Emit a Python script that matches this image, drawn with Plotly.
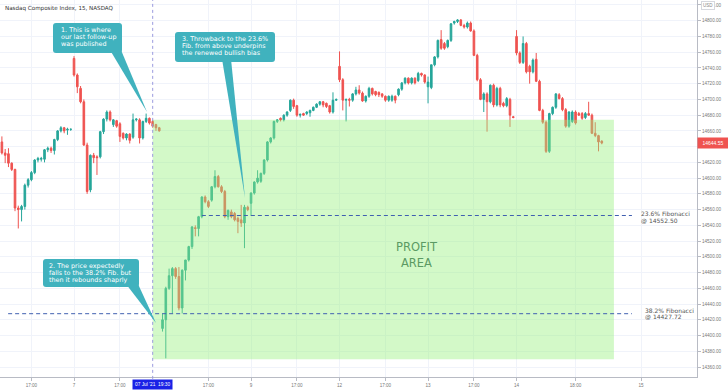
import plotly.graph_objects as go

# ---------------- data ----------------
BARS_PER_SESSION = 27          # 15-min bars per NASDAQ session (13:30-20:15)
FIRST_BAR = 5                  # first visible bar index (session of 6 Jul)

open_ = [
    14646,14632,14631,14619,14611,14562,14560,14564,14591,14598,14607,14623,14624,14624,14636,14638,14635,14649,14660,14664,14661,14662,
    14752,14731,14714,14697,14642,14585,14629,14627,14627,14659,14675,14684,14668,14673,14669,14657,14651,14656,14652,14674,14674,14651,14672,14676,14672,14668,14664,
    14409,14420,14460,14476,14485,14475,14435,14483,14496,14513,14537,14536,14551,14576,14570,14572,14589,14602,14589,14583,14551,14557,14555,14549,14547,14543,14563,
    14568,14581,14595,14596,14606,14623,14646,14651,14672,14676,14674,14680,14686,14699,14692,14680,14682,14682,14683,14686,14690,14694,14697,14695,14692,14684,14699,
    14742,14725,14699,14700,14699,14707,14712,14708,14698,14704,14714,14710,14709,14707,14704,14699,14699,14704,14706,14713,14721,14727,14721,14727,14724,14733,14731,
    14716,14715,14744,14754,14776,14771,14767,14775,14797,14799,14801,14794,14792,14797,14787,14756,14725,14700,14707,14697,14718,14693,14714,14695,14692,14700,14678,
    14780,14759,14747,14771,14742,14735,14751,14723,14686,14671,14634,14682,14690,14706,14701,14687,14666,14672,14684,14682,14682,14677,14682,14680,14657,14654,14647,
]
high = [
    14653,14637,14638,14620,14612,14565,14566,14593,14600,14609,14624,14627,14627,14637,14640,14640,14650,14661,14666,14665,14664,14663,
    14755,14733,14717,14700,14645,14630,14632,14629,14660,14676,14686,14686,14675,14674,14671,14658,14657,14657,14682,14676,14676,14673,14682,14677,14674,14669,14665,
    14428,14462,14485,14487,14487,14487,14484,14496,14514,14539,14540,14552,14577,14578,14572,14590,14610,14604,14591,14585,14560,14560,14557,14551,14566,14566,14565,
    14582,14596,14610,14607,14624,14647,14652,14673,14675,14677,14681,14685,14700,14701,14693,14682,14683,14685,14687,14691,14695,14698,14698,14696,14693,14709,14701,
    14761,14727,14701,14702,14708,14716,14718,14710,14705,14716,14715,14711,14710,14708,14705,14705,14706,14705,14714,14722,14728,14728,14728,14728,14735,14734,14732,
    14729,14744,14755,14776,14788,14773,14776,14797,14800,14802,14802,14796,14799,14799,14789,14758,14727,14709,14709,14719,14720,14716,14716,14697,14703,14702,14679,
    14788,14761,14780,14773,14744,14752,14759,14725,14688,14673,14683,14691,14708,14708,14703,14689,14685,14686,14686,14684,14684,14684,14697,14682,14671,14655,14648,
]
low = [
    14630,14619,14614,14609,14558,14536,14545,14560,14588,14596,14605,14620,14621,14620,14633,14632,14630,14647,14658,14657,14655,14660,
    14729,14708,14695,14641,14580,14582,14619,14604,14625,14656,14672,14672,14665,14664,14646,14649,14648,14644,14650,14672,14644,14649,14670,14668,14664,14660,14659,
    14405,14371,14458,14428,14472,14432,14428,14470,14494,14510,14526,14526,14549,14568,14562,14570,14587,14588,14581,14549,14547,14549,14545,14530,14538,14511,14558,
    14552,14579,14593,14594,14604,14621,14644,14649,14670,14672,14672,14678,14684,14688,14678,14677,14679,14680,14678,14685,14689,14692,14690,14689,14682,14682,14698,
    14722,14686,14672,14691,14697,14705,14706,14697,14696,14702,14705,14704,14703,14702,14697,14697,14697,14695,14704,14711,14719,14719,14719,14719,14722,14729,14720,
    14695,14713,14742,14752,14763,14763,14765,14773,14795,14797,14793,14790,14790,14786,14755,14723,14699,14684,14659,14695,14690,14691,14690,14690,14690,14665,14676,
    14756,14745,14745,14733,14720,14733,14722,14685,14669,14632,14632,14680,14688,14700,14685,14664,14664,14670,14668,14679,14674,14675,14679,14656,14652,14634,14643,
]
close = [
    14632,14629,14619,14611,14562,14560,14564,14591,14598,14607,14623,14625,14625,14636,14638,14635,14649,14660,14664,14660,14662,14662,
    14731,14716,14697,14642,14583,14629,14626,14626,14659,14675,14684,14674,14674,14666,14653,14651,14656,14648,14674,14675,14651,14672,14676,14670,14666,14664,14660,
    14420,14460,14476,14485,14475,14435,14483,14496,14513,14538,14536,14551,14576,14570,14564,14589,14602,14589,14583,14551,14559,14551,14547,14545,14543,14563,14560,
    14581,14595,14600,14606,14623,14646,14651,14672,14674,14674,14680,14684,14699,14691,14680,14681,14680,14684,14686,14690,14694,14697,14693,14691,14684,14699,14700,
    14725,14699,14700,14699,14707,14712,14708,14698,14704,14714,14707,14706,14706,14704,14699,14704,14704,14699,14713,14721,14727,14721,14727,14721,14733,14731,14722,
    14722,14744,14754,14775,14765,14765,14775,14796,14799,14801,14794,14792,14797,14787,14756,14725,14700,14707,14697,14718,14693,14714,14693,14692,14701,14680,14677,
    14759,14747,14771,14735,14735,14750,14723,14686,14671,14634,14682,14690,14707,14701,14687,14666,14684,14684,14670,14680,14676,14682,14680,14657,14654,14646,14644.55,
]

# x-axis tick labels (bar index within the chart) and their texts
tick_bars = [14, 27, 41, 68, 81, 95, 108, 122, 135, 149, 162, 180, 200]
tick_text = ["17:00", "7", "17:00", "17:00", "9", "17:00", "12", "17:00", "13", "17:00", "14", "18:00", "15"]

CROSSHAIR_BAR = 51                     # 07 Jul '21 19:30
CROSSHAIR_TEXT = "07 Jul '21  19:30"

FIB_236 = 14552.50
FIB_382 = 14427.72
PROFIT_TOP = 14674
PROFIT_BOTTOM = 14370

# ---------------- layout geometry ----------------
W, H = 728, 391
PW, PH = 697, 377          # plot area (pixels)
X_RANGE = [4.42, 217.05]
Y_RANGE = [14347.3, 14826.3]

GREEN = "#26a69a"
RED = "#ef5350"
TEAL = "#40b2be"
FIB_COLOR = "#4060b0"

def fx(p):
    return p / PW

def fy(p):
    return 1 - p / PH

x = list(range(FIRST_BAR, FIRST_BAR + len(close)))

fig = go.Figure()
fig.add_trace(go.Candlestick(
    x=x, open=open_, high=high, low=low, close=close,
    increasing=dict(line=dict(color=GREEN, width=1), fillcolor=GREEN),
    decreasing=dict(line=dict(color=RED, width=1), fillcolor=RED),
    whiskerwidth=0, showlegend=False, hoverinfo="skip",
))

shapes = []
# profit area (drawn above the candles, translucent)
shapes.append(dict(type="rect", xref="x", yref="y", x0=CROSSHAIR_BAR, x1=191.7,
                   y0=PROFIT_BOTTOM, y1=PROFIT_TOP, fillcolor="rgba(150,240,125,0.42)",
                   line=dict(width=0), layer="above"))
# fibonacci lines
shapes.append(dict(type="line", xref="x", yref="y", x0=66, x1=197.2, y0=FIB_236, y1=FIB_236,
                   line=dict(color=FIB_COLOR, width=1, dash="4px,3px"), layer="above"))
shapes.append(dict(type="line", xref="x", yref="y", x0=6.9, x1=197.2, y0=FIB_382, y1=FIB_382,
                   line=dict(color=FIB_COLOR, width=1, dash="4px,3px"), layer="above"))
# crosshair vertical
shapes.append(dict(type="line", xref="x", yref="paper", x0=CROSSHAIR_BAR, x1=CROSSHAIR_BAR,
                   y0=-0.005, y1=1, line=dict(color="#9a9ade", width=1, dash="dot"), layer="above"))


def rounded_rect(x0, y0, x1, y1, r=3):
    pts = [
        ("M", (x0 + r, y0)), ("L", (x1 - r, y0)), ("Q", (x1, y0), (x1, y0 + r)),
        ("L", (x1, y1 - r)), ("Q", (x1, y1), (x1 - r, y1)), ("L", (x0 + r, y1)),
        ("Q", (x0, y1), (x0, y1 - r)), ("L", (x0, y0 + r)), ("Q", (x0, y0), (x0 + r, y0)),
    ]
    s = ""
    for seg in pts:
        cmd = seg[0]
        coords = " ".join(f"{fx(a):.5f},{fy(b):.5f}" for a, b in seg[1:])
        s += f"{cmd} {coords} "
    return s + "Z"


def tri(p1, p2, p3):
    return "M " + " L ".join(f"{fx(a):.5f},{fy(b):.5f}" for a, b in (p1, p2, p3)) + " Z"


callouts = [
    dict(box=(53, 23, 122, 53), ptr=((110, 50), (121, 50), (147, 112)),
         lines=["1. This is where", "our last follow-up", "was published"], tx=58.5, ty=[30.5, 37.5, 44.5]),
    dict(box=(43, 259, 139, 287), ptr=((126, 284), (138, 284), (156, 323)),
         lines=["2. The price expectedly", "falls to the 38.2% Fib. but", "then it rebounds shaprly"],
         tx=46.5, ty=[265.5, 272.5, 279.5]),
    dict(box=(175, 32, 275, 62), ptr=((222, 59), (231, 59), (245, 198)),
         lines=["3. Throwback to the 23.6%", "Fib. from above underpins", "the renewed bullish bias"],
         tx=180, ty=[38.5, 46, 53.5]),
]

annotations = []
for c in callouts:
    shapes.append(dict(type="path", xref="paper", yref="paper", path=tri(*c["ptr"]),
                       fillcolor=TEAL, line=dict(width=0), layer="above"))
    shapes.append(dict(type="path", xref="paper", yref="paper", path=rounded_rect(*c["box"]),
                       fillcolor=TEAL, line=dict(width=0), layer="above"))
    for t, yy in zip(c["lines"], c["ty"]):
        annotations.append(dict(text=t, xref="paper", yref="paper", x=fx(c["tx"]), y=fy(yy),
                                xanchor="left", yanchor="middle", showarrow=False,
                                font=dict(family="DejaVu Sans", size=6.4, color="white")))

# fibonacci labels
for lbl1, lbl2, xx, y1, y2 in [
    ("23.6% Fibonacci", f"@ {FIB_236:.2f}", 639, 214, 220.5),
    ("38.2% Fibonacci", f"@ {FIB_382:.2f}", 642.5, 310, 316.5),
]:
    for t, yy in ((lbl1, y1), (lbl2, y2)):
        annotations.append(dict(text=t, xref="paper", yref="paper", x=fx(xx), y=fy(yy),
                                xanchor="left", yanchor="middle", showarrow=False,
                                font=dict(family="DejaVu Sans", size=6, color="#555555")))

# profit area label
for t, yy in (("PROFIT", 247), ("AREA", 263)):
    annotations.append(dict(text=t, xref="x", yref="paper", x=131.6, y=fy(yy),
                            xanchor="center", yanchor="middle", showarrow=False,
                            font=dict(family="DejaVu Sans", size=11.5, color="#5b9a63")))

# title
annotations.append(dict(text="Nasdaq Composite Index, 15, NASDAQ", xref="paper", yref="paper",
                        x=fx(3), y=fy(8), xanchor="left", yanchor="middle", showarrow=False,
                        font=dict(family="DejaVu Sans", size=5.6, color="#333333")))

# crosshair time label
annotations.append(dict(text=CROSSHAIR_TEXT, xref="x", yref="paper", x=CROSSHAIR_BAR, y=fy(384),
                        xanchor="center", yanchor="middle", showarrow=False, bgcolor="#1a22e6",
                        borderpad=2, font=dict(family="Liberation Sans", size=4.8, color="white")))

# last price tag
annotations.append(dict(text=f"{close[-1]:.2f}", xref="paper", yref="y", x=fx(PW), y=close[-1],
                        xanchor="left", yanchor="middle", showarrow=False, bgcolor=RED,
                        borderpad=2, width=26,
                        font=dict(family="Liberation Sans", size=5, color="white")))

# currency label
annotations.append(dict(text="USD", xref="paper", yref="paper", x=fx(708), y=fy(6),
                        xanchor="center", yanchor="middle", showarrow=False, bgcolor="white",
                        bordercolor="#d6d8de", borderwidth=1, borderpad=1,
                        font=dict(family="Liberation Sans", size=4.5, color="#888888")))

fig.update_layout(
    width=W, height=H,
    margin=dict(l=0, r=W - PW, t=0, b=H - PH, pad=0),
    paper_bgcolor="white", plot_bgcolor="white",
    shapes=shapes, annotations=annotations,
    xaxis=dict(range=X_RANGE, tickmode="array", tickvals=tick_bars, ticktext=tick_text,
               showgrid=True, gridcolor="#f0f3fa", gridwidth=1, zeroline=False,
               showline=True, linecolor="#b8bbc4", linewidth=1, ticks="outside", ticklen=3,
               tickcolor="#b8bbc4", tickfont=dict(family="Liberation Sans", size=4.6, color="#777777"),
               rangeslider=dict(visible=False), fixedrange=True),
    yaxis=dict(range=Y_RANGE, side="right", tick0=0, dtick=20, tickformat=".2f",
               showgrid=True, gridcolor="#f0f3fa", gridwidth=1, zeroline=False,
               showline=True, linecolor="#b8bbc4", linewidth=1, ticks="outside", ticklen=3,
               tickcolor="#b8bbc4", tickfont=dict(family="Liberation Sans", size=4.6, color="#777777"),
               fixedrange=True),
)

fig.write_html("out.html", config={"displayModeBar": False},
               post_script="document.body.style.margin='0';document.body.style.overflow='hidden';")
